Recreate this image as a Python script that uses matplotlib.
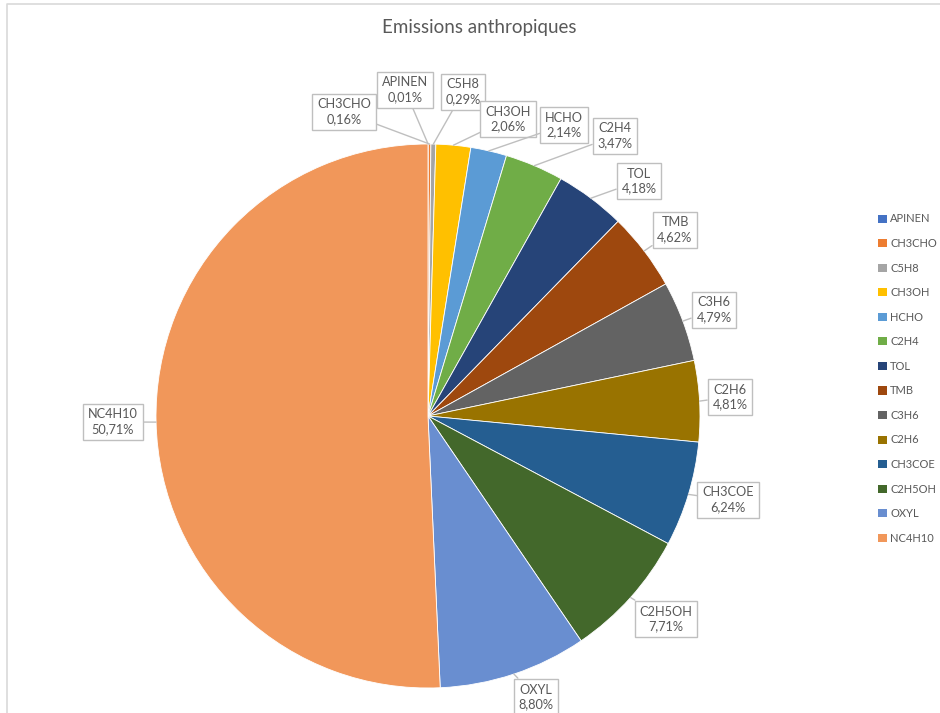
import matplotlib.pyplot as plt
import numpy as np

plt.rcParams['font.family'] = ['Lato', 'DejaVu Sans']

names = ["APINEN", "CH3CHO", "C5H8", "CH3OH", "HCHO", "C2H4", "TOL", "TMB",
         "C3H6", "C2H6", "CH3COE", "C2H5OH", "OXYL", "NC4H10"]
values = [0.01, 0.16, 0.29, 2.06, 2.14, 3.47, 4.18, 4.62, 4.79, 4.81, 6.24, 7.71, 8.80, 50.71]
colors = ["#4472C4", "#ED7D31", "#A5A5A5", "#FFC000", "#5B9BD5", "#70AD47", "#264478",
          "#9E480E", "#636363", "#997300", "#255E91", "#43682B", "#698ED0", "#F1975A"]

# label box centres (pixel coords, y from top)
label_pos = {
    "APINEN": (405, 90), "CH3CHO": (344, 112), "C5H8": (463, 92), "CH3OH": (508, 119),
    "HCHO": (564, 125), "C2H4": (615, 136), "TOL": (639, 181), "TMB": (675, 230),
    "C3H6": (714, 310), "C2H6": (730, 397), "CH3COE": (728, 500), "C2H5OH": (666, 619),
    "OXYL": (536, 697), "NC4H10": (113, 422),
}

W, H = 940, 713
fig = plt.figure(figsize=(W / 100, H / 100), dpi=100)
ax = fig.add_axes([0, 0, 1, 1])
ax.set_xlim(0, W)
ax.set_ylim(0, H)
ax.set_aspect('equal')
ax.axis('off')

# chart frame (cropped at right / bottom)
ax.plot([7, 7, W + 5], [-5, H - 4, H - 4], color="#D9D9D9", lw=1.2)

cx, cy, r = 428, H - 416, 272
wedges, _ = ax.pie(values, colors=colors, startangle=90, counterclock=False,
                   center=(cx, cy), radius=r, frame=True,
                   wedgeprops=dict(edgecolor="white", linewidth=0.6))
ax.set_xlim(0, W)
ax.set_ylim(0, H)
ax.axis('off')

for w, name, v in zip(wedges, names, values):
    ang = np.deg2rad((w.theta1 + w.theta2) / 2)
    px, py = cx + r * np.cos(ang), cy + r * np.sin(ang)
    lx, ly = label_pos[name]
    txt = f"{name}\n{v:.2f}%".replace(".", ",")
    ax.annotate(txt, xy=(px, py), xytext=(lx, H - ly), ha="center", va="center",
                fontsize=9.2, color="#595959", linespacing=1.3,
                bbox=dict(boxstyle="square,pad=0.38", fc="white", ec="#BFBFBF", lw=1),
                arrowprops=dict(arrowstyle="-", color="#BFBFBF", lw=1,
                                shrinkA=0, shrinkB=0))

ax.text(479, H - 28, "Emissions anthropiques", ha="center", va="center",
        fontsize=13.5, color="#595959")

handles = [plt.Rectangle((0, 0), 1, 1, fc=c) for c in colors]
leg = ax.legend(handles, names, loc="upper left", bbox_to_anchor=(874 / W, 1 - 209 / H),
                frameon=False, fontsize=8.0, handlelength=0.75, handleheight=0.75,
                handletextpad=0.3, labelspacing=1.22, borderaxespad=0)
for t in leg.get_texts():
    t.set_color("#595959")

fig.savefig("out.png", dpi=100)
